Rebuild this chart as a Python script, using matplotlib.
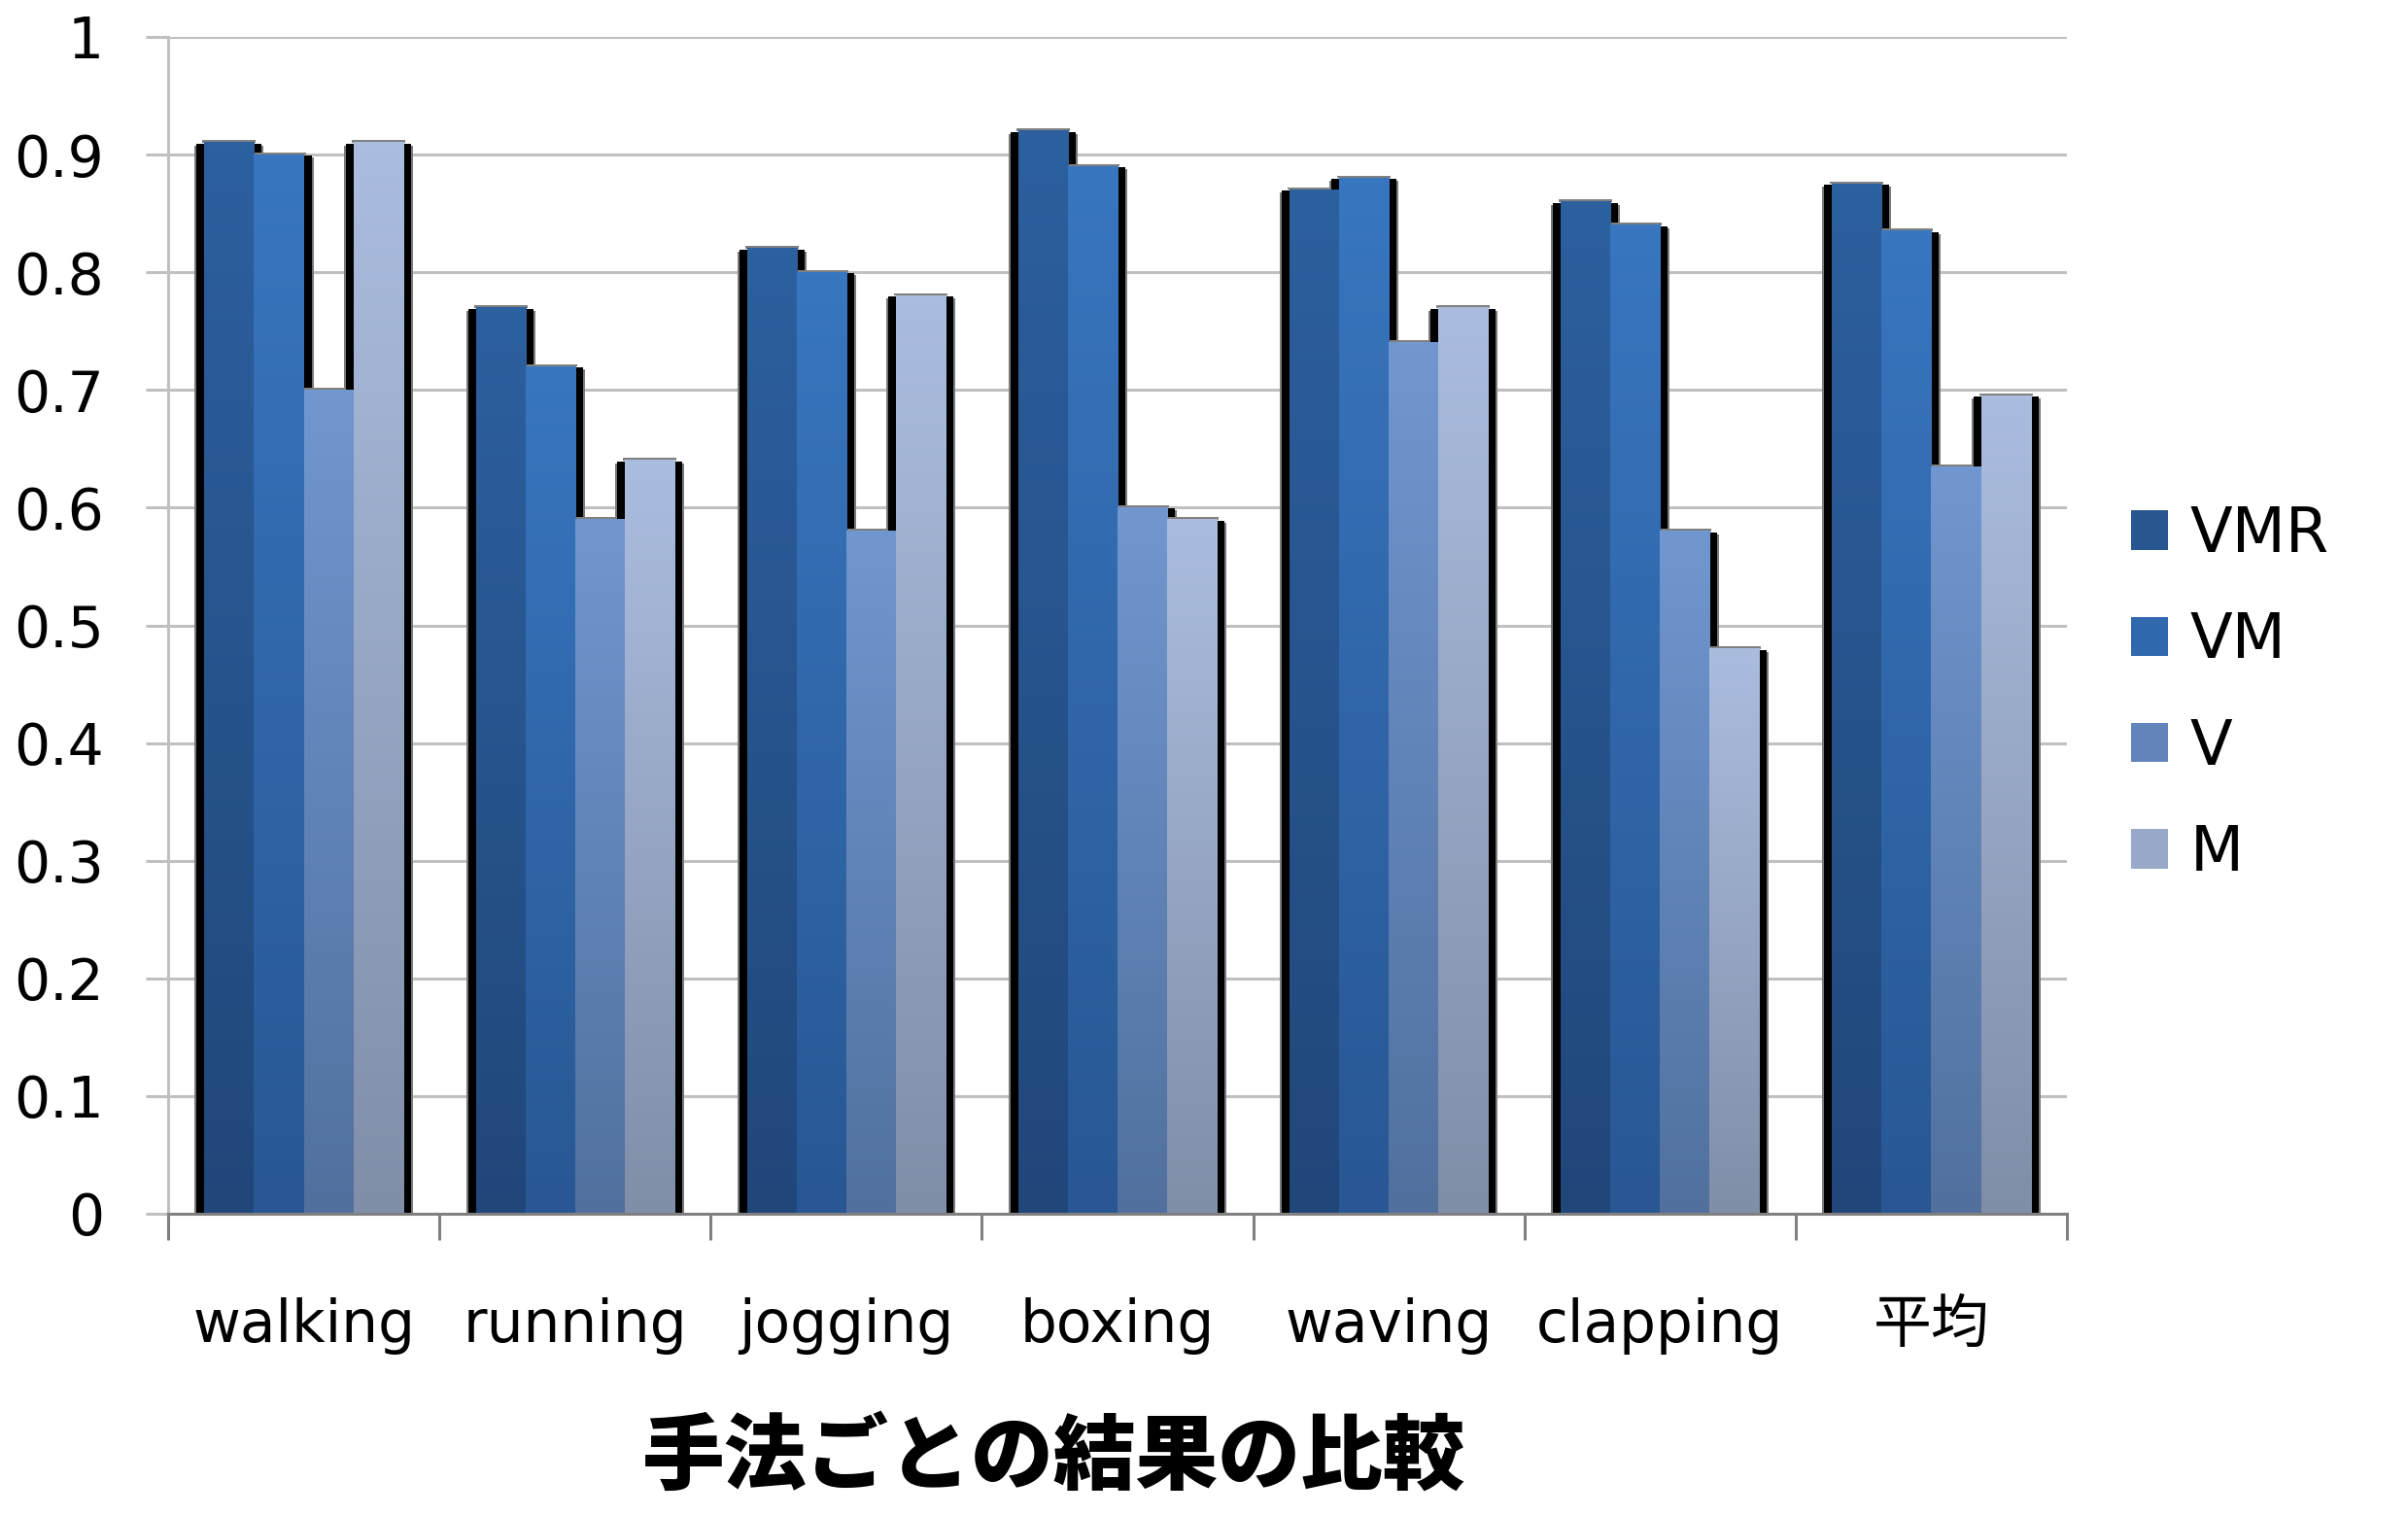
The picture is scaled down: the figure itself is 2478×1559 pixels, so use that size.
import matplotlib
matplotlib.use("Agg")
import matplotlib.pyplot as plt
from matplotlib.colors import LinearSegmentedColormap
from matplotlib.patches import Rectangle, Patch
import numpy as np

plt.rcParams['font.family'] = ['DejaVu Sans', 'Noto Sans CJK JP']

# データ
categories = ['walking', 'running', 'jogging', 'boxing', 'waving', 'clapping', '平均']
series = ['VMR', 'VM', 'V', 'M']
vmr = [0.91, 0.77, 0.82, 0.92, 0.87, 0.86, 0.875]
vm = [0.90, 0.72, 0.80, 0.89, 0.88, 0.84, 0.835]
v = [0.70, 0.59, 0.58, 0.60, 0.74, 0.58, 0.635]
m = [0.91, 0.64, 0.78, 0.59, 0.77, 0.48, 0.695]
values = [vmr, vm, v, m]

# グラデーション (上, 下)
grad = [('#2D609F', '#20477A'),
        ('#3876C0', '#285793'),
        ('#7097D0', '#51709E'),
        ('#ABBDDF', '#808EA8')]
mid = ['#28568E', '#3068AE', '#6284BA', '#97A8C8']

W, H = 2478, 1559
fig = plt.figure(figsize=(W / 100, H / 100), dpi=100)
ax = fig.add_axes([173 / W, 1 - 1249 / H, (2127 - 173) / W, (1249 - 38) / H])

n = len(categories)
bw = 0.183
sx = 1 / ((2127 - 173) / n)   # 1px (x)
sy = 1 / (1249 - 38)          # 1px (y)

# 影
for i, vals in enumerate(values):
    for j, h in enumerate(vals):
        x0 = j - 2 * bw + i * bw
        ax.add_patch(Rectangle((x0 - 10 * sx, -5 * sy), bw + 20 * sx, h + 2 * sy,
                               facecolor='#7a7a7a', edgecolor='none', zorder=2))
        ax.add_patch(Rectangle((x0 - 8 * sx, -4 * sy), bw + 16 * sx, h + 3 * sy,
                               facecolor='black', edgecolor='none', zorder=2.1))
        ax.add_patch(Rectangle((x0 - 2 * sx, h), bw + 4 * sx, 2.5 * sy,
                               facecolor='#808080', edgecolor='none', zorder=2.1))

# 棒 (縦グラデーション)
g = np.linspace(1, 0, 256).reshape(-1, 1)
for i, vals in enumerate(values):
    cmap = LinearSegmentedColormap.from_list(series[i], [grad[i][1], grad[i][0]])
    for j, h in enumerate(vals):
        x0 = j - 2 * bw + i * bw
        ax.imshow(g, cmap=cmap, extent=[x0, x0 + bw, 0, h], aspect='auto',
                  interpolation='bilinear', zorder=3, vmin=0, vmax=1)

ax.set_xlim(-0.5, n - 0.5)
ax.set_ylim(0, 1)
ax.set_yticks(np.arange(0, 1.01, 0.1))
ax.set_yticklabels(['0', '0.1', '0.2', '0.3', '0.4', '0.5', '0.6', '0.7', '0.8', '0.9', '1'])
ax.grid(axis='y', color='#c0c0c0', linewidth=2.2, zorder=1)
ax.set_axisbelow(True)

ax.set_xticks(np.arange(-0.5, n, 1.0))
ax.set_xticklabels([])
ax.set_xticks(np.arange(n), minor=True)
ax.set_xticklabels(categories, minor=True)
ax.tick_params(axis='x', which='major', direction='out', length=19.5, width=2.2, color='#808080')
ax.tick_params(axis='x', which='minor', length=0, pad=62, labelsize=43)
ax.tick_params(axis='y', direction='out', length=16.5, width=2.2, color='#c0c0c0',
               pad=31, labelsize=42)

for s in ['top', 'right']:
    ax.spines[s].set_visible(False)
ax.spines['left'].set_color('#c0c0c0')
ax.spines['left'].set_linewidth(2.2)
ax.spines['bottom'].set_color('#808080')
ax.spines['bottom'].set_linewidth(2.2)
ax.spines['bottom'].set_zorder(4)

handles = [Patch(facecolor=mid[i], edgecolor='none', label=series[i]) for i in range(4)]
ax.legend(handles=handles, loc='center left', bbox_to_anchor=(2193 / W, 1 - 714 / H),
          bbox_transform=fig.transFigure, frameon=False, fontsize=46,
          handlelength=0.6, handleheight=0.6, handletextpad=0.35,
          labelspacing=0.74, borderaxespad=0, borderpad=0)

fig.text(1085 / W, 1 - 1500 / H, '手法ごとの結果の比較', ha='center', va='center',
         fontsize=61, fontweight='black', family=['Noto Sans CJK JP'])

fig.savefig('out.png', dpi=100)
